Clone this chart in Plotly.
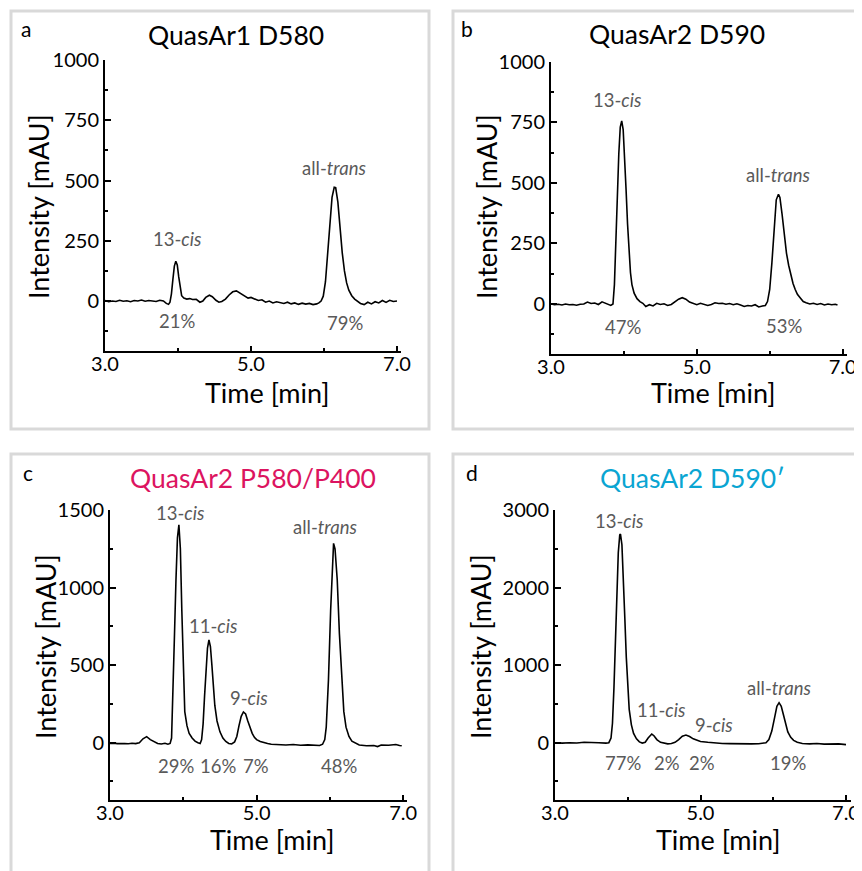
import plotly.graph_objects as go

W, H = 862, 871
FONT = "Lato"
OFF = 8  # browser body margin

# ---------------- data ----------------
# Panel a: QuasAr1 D580
a_time = [3.00, 3.05, 3.10, 3.15, 3.20, 3.25, 3.30, 3.35, 3.40, 3.45, 3.50, 3.55, 3.60, 3.65, 3.70, 3.75,
          3.80, 3.84, 3.87, 3.89, 3.91, 3.93, 3.95, 3.97, 3.99, 4.01, 4.03, 4.05, 4.08, 4.12, 4.16, 4.20,
          4.25, 4.30, 4.34, 4.38, 4.43, 4.47, 4.52, 4.56, 4.60, 4.65, 4.70, 4.75, 4.80, 4.84, 4.88, 4.92,
          4.96, 5.00, 5.05, 5.10, 5.15, 5.20, 5.25, 5.30, 5.35, 5.40, 5.45, 5.50, 5.55, 5.60, 5.65, 5.70,
          5.75, 5.80, 5.85, 5.90, 5.93, 5.96, 5.99, 6.02, 6.05, 6.08, 6.11, 6.14, 6.16, 6.19, 6.22, 6.25,
          6.28, 6.31, 6.34, 6.38, 6.42, 6.46, 6.50, 6.55, 6.60, 6.65, 6.70, 6.75, 6.80, 6.85, 6.90, 6.95, 7.00]
a_int = [2, -3, 0, -2, 3, -1, 1, -3, 2, 0, 4, -1, 2, 0, -2, 3,
         0, -10, -14, -5, 30, 90, 145, 165, 150, 100, 50, 22, 12, 8, 10, 6,
         7, -5, 0, 15, 24, 18, 3, -5, -2, 8, 25, 38, 42, 35, 28, 18,
         12, 15, 8, 2, 5, -5, 0, -8, -3, -6, -10, -5, -12, -8, -14, -9,
         -13, -10, -15, -12, -8, 0, 20, 80, 190, 320, 430, 472, 470, 410, 300, 200,
         125, 75, 45, 22, 8, 0, -10, -15, -5, -12, -3, -8, 2, -6, 3, -2, 0]

# Panel b: QuasAr2 D590
b_time = [3.00, 3.05, 3.10, 3.15, 3.20, 3.25, 3.30, 3.35, 3.40, 3.45, 3.50, 3.55, 3.60, 3.65, 3.70, 3.74,
          3.78, 3.82, 3.85, 3.87, 3.89, 3.91, 3.93, 3.95, 3.97, 3.99, 4.01, 4.03, 4.05, 4.07, 4.09, 4.11,
          4.14, 4.18, 4.22, 4.26, 4.30, 4.35, 4.40, 4.45, 4.50, 4.55, 4.60, 4.65, 4.70, 4.75, 4.80, 4.85,
          4.90, 4.95, 5.00, 5.05, 5.10, 5.15, 5.20, 5.25, 5.30, 5.35, 5.40, 5.45, 5.50, 5.55, 5.60, 5.65,
          5.70, 5.75, 5.80, 5.85, 5.90, 5.94, 5.97, 6.00, 6.03, 6.06, 6.09, 6.12, 6.14, 6.17, 6.20, 6.23,
          6.26, 6.29, 6.32, 6.35, 6.38, 6.42, 6.46, 6.50, 6.55, 6.60, 6.65, 6.70, 6.75, 6.80, 6.85, 6.90, 6.93]
b_int = [0, -3, -1, -4, 0, -3, -2, -5, -1, 0, 8, 2, 4, -2, 9, 3,
         0, -6, 0, 80, 260, 450, 620, 730, 756, 720, 620, 470, 330, 210, 130, 80,
         45, 22, 10, 3, -10, -3, -8, 3, -2, 1, -6, -2, 10, 20, 26, 20,
         8, 2, -3, 3, 0, -6, -2, 5, 2, 3, -1, 2, -3, 1, -4, -10,
         -6, -8, -3, -12, -8, -6, 10, 60, 170, 310, 430, 453, 440, 370, 280, 210,
         160, 120, 85, 60, 40, 25, 10, 5, 0, 3, -2, 2, -4, 0, -3, -1, -4]

# Panel c: QuasAr2 P580/P400
c_time = [3.00, 3.05, 3.10, 3.15, 3.20, 3.25, 3.30, 3.35, 3.40, 3.45, 3.50, 3.55, 3.60, 3.65, 3.70, 3.75,
          3.79, 3.82, 3.84, 3.86, 3.88, 3.90, 3.92, 3.94, 3.96, 3.98, 4.00, 4.02, 4.05, 4.08, 4.12, 4.16,
          4.20, 4.23, 4.25, 4.27, 4.29, 4.31, 4.33, 4.35, 4.37, 4.39, 4.41, 4.43, 4.46, 4.50, 4.54, 4.58,
          4.62, 4.66, 4.70, 4.73, 4.76, 4.79, 4.82, 4.85, 4.88, 4.91, 4.94, 4.97, 5.00, 5.05, 5.10, 5.15,
          5.20, 5.30, 5.40, 5.50, 5.60, 5.70, 5.80, 5.86, 5.90, 5.93, 5.95, 5.98, 6.01, 6.04, 6.05, 6.07,
          6.10, 6.13, 6.16, 6.19, 6.22, 6.26, 6.30, 6.36, 6.40, 6.50, 6.60, 6.65, 6.70, 6.80, 6.90, 6.95, 6.98]
c_int = [-5, -3, -6, -4, -5, -7, -4, -6, 0, 25, 39, 20, 5, -5, -8, -4,
         -10, -5, 30, 300, 700, 1050, 1320, 1404, 1250, 850, 450, 200, 110, 60, 30, 10,
         0, -5, 20, 120, 300, 480, 610, 662, 620, 500, 360, 240, 140, 70, 30, 8,
         -5, -8, 5, 40, 110, 170, 198, 185, 140, 95, 60, 35, 20, 8, 0, -5,
         -10, -12, -15, -12, -16, -14, -15, -18, -10, 20, 100, 400, 850, 1230, 1285, 1250,
         1050, 700, 400, 200, 100, 40, 10, -5, -15, -20, -18, -25, -15, -16, -12, -18, -20]

# Panel d: QuasAr2 D590'
d_time = [3.00, 3.10, 3.20, 3.30, 3.40, 3.50, 3.60, 3.70, 3.74, 3.77, 3.79, 3.81, 3.83, 3.85, 3.87, 3.89,
          3.90, 3.92, 3.94, 3.96, 3.98, 4.00, 4.02, 4.05, 4.08, 4.12, 4.16, 4.20, 4.24, 4.28, 4.31, 4.33,
          4.36, 4.40, 4.45, 4.50, 4.55, 4.60, 4.65, 4.70, 4.75, 4.80, 4.85, 4.90, 4.95, 5.00, 5.10, 5.20,
          5.30, 5.40, 5.50, 5.60, 5.70, 5.80, 5.85, 5.90, 5.94, 5.98, 6.02, 6.05, 6.08, 6.11, 6.14, 6.17,
          6.20, 6.24, 6.28, 6.33, 6.40, 6.50, 6.60, 6.70, 6.80, 6.90, 7.00]
d_int = [0, -5, 0, -3, 5, -2, 0, -5, 0, 60, 250, 700, 1300, 1950, 2450, 2680,
         2690, 2550, 2150, 1600, 1100, 700, 430, 230, 120, 50, 10, -5, 5, 60, 100, 112,
         90, 40, 5, -10, -15, -10, 5, 40, 85, 99, 80, 50, 30, 15, 5, -5,
         -10, -12, -15, -12, -15, -14, -10, 0, 40, 150, 330, 470, 516, 470, 360, 240,
         140, 70, 30, 5, -10, -15, -10, -18, -12, -15, -25]

panel_letters = ["a", "b", "c", "d"]
panel_titles = ["QuasAr1 D580", "QuasAr2 D590", "QuasAr2 P580/P400", "QuasAr2 D590\u2032"]
title_colors = ["#000000", "#000000", "#dc1460", "#0aa5d2"]
y_major_step = [250, 250, 500, 1000]
y_minor_step = [125, 125, 250, 500]
y_top = [1000, 1000, 1500, 3000]
x_tick_vals = [3.0, 5.0, 7.0]
x_tick_text = ["3.0", "5.0", "7.0"]

# peak labels per panel: (label, time, intensity)
a_peaks = [("13-<i>cis</i>", 3.98, 256), ("all-<i>trans</i>", 6.14, 550)]
a_pct = [("21%", 3.99, -82), ("79%", 6.29, -90)]
b_peaks = [("13-<i>cis</i>", 3.90, 843), ("all-<i>trans</i>", 6.11, 533)]
b_pct = [("47%", 3.99, -96), ("53%", 6.19, -91)]
c_peaks = [("13-<i>cis</i>", 3.955, 1483), ("11-<i>cis</i>", 4.40, 752), ("9-<i>cis</i>", 4.89, 290),
           ("all-<i>trans</i>", 5.93, 1389)]
c_pct = [("29%", 3.90, -150), ("16%", 4.48, -150), ("7%", 4.99, -150), ("48%", 6.12, -150)]
d_peaks = [("13-<i>cis</i>", 3.88, 2858), ("11-<i>cis</i>", 4.46, 421), ("9-<i>cis</i>", 5.19, 228),
           ("all-<i>trans</i>", 6.08, 701)]
d_pct = [("77%", 3.94, -258), ("2%", 4.535, -258), ("2%", 5.02, -258), ("19%", 6.20, -258)]

# ---------------- layout geometry (screen pixels) ----------------
geo = [
    dict(x0=105, x1=401, ppm=73.0, yt=60, y0=301, yb=351),
    dict(x0=551, x1=847, ppm=72.9, yt=61.7, y0=304, yb=354),
    dict(x0=110, x1=406.7, ppm=73.3, yt=510, y0=742.7, yb=800),
    dict(x0=555, x1=851, ppm=72.75, yt=510, y0=742.7, yb=800),
]
boxes = [(11, 11, 429, 429), (453, 11, 860, 429), (11, 454, 429, 880), (453, 454, 860, 880)]
letter_pos = [(26, 29), (467, 28), (28, 473), (472, 472)]
title_pos = [(236, 35), (677, 34), (253, 478), (692, 478)]
ytitle_pos = [(38, 207), (486, 207), (45, 647), (480, 647)]
xtitle_pos = [(267, 392), (713, 392), (272, 839), (718, 839)]


def px(x):
    return (x - OFF) / W


def py(y):
    return 1 - (y - OFF) / H


traces = [(a_time, a_int), (b_time, b_int), (c_time, c_int), (d_time, d_int)]
peaks = [a_peaks, b_peaks, c_peaks, d_peaks]
pcts = [a_pct, b_pct, c_pct, d_pct]

fig = go.Figure()
annotations = []
shapes = []
lay = {}


def note(text, x, y, size, color, xref="paper", yref="paper", angle=0):
    return dict(text=text, x=x, y=y, xref=xref, yref=yref, showarrow=False, textangle=angle,
                xanchor="center", yanchor="middle",
                font=dict(family=FONT, size=size, color=color))


for i in range(4):
    g = geo[i]
    n = "" if i == 0 else str(i + 1)
    xa, ya = "x" + n, "y" + n
    t, v = traces[i]
    fig.add_trace(go.Scatter(x=t, y=v, mode="lines", line=dict(color="black", width=1.6),
                             xaxis=xa, yaxis=ya, showlegend=False, hoverinfo="skip"))
    ppu = (g["y0"] - g["yt"]) / y_top[i]
    ybot = -(g["yb"] - g["y0"]) / ppu
    xend = 3 + (g["x1"] - g["x0"]) / g["ppm"]
    lay["xaxis" + n] = dict(
        domain=[px(g["x0"]), px(g["x1"])], range=[3, xend], anchor=ya, automargin=False,
        showline=True, linecolor="black", linewidth=2, showgrid=False, zeroline=False,
        ticks="inside", ticklen=5, tickwidth=1.5, tickcolor="black",
        tickvals=x_tick_vals, ticktext=x_tick_text, ticklabelstandoff=-6,
        minor=dict(ticks="inside", ticklen=3, tickwidth=1.5, tickcolor="black", dtick=1, tick0=3),
        tickfont=dict(family=FONT, size=20, color="black"), fixedrange=True,
    )
    lay["yaxis" + n] = dict(
        domain=[py(g["yb"]), py(g["yt"])], range=[ybot, y_top[i]], anchor=xa, automargin=False,
        showline=True, linecolor="black", linewidth=2, showgrid=False, zeroline=False,
        ticks="inside", ticklen=6, tickwidth=1.5, tickcolor="black",
        tickmode="linear", tick0=0, dtick=y_major_step[i],
        minor=dict(ticks="inside", ticklen=3, tickwidth=1.5, tickcolor="black",
                   dtick=y_minor_step[i], tick0=0),
        tickfont=dict(family=FONT, size=20, color="black"), fixedrange=True,
    )
    bx = boxes[i]
    shapes.append(dict(type="rect", xref="paper", yref="paper",
                       x0=px(bx[0]), x1=px(bx[2]), y0=py(bx[3]), y1=py(bx[1]),
                       line=dict(color="#d9d9d9", width=3), layer="below"))
    annotations.append(note(panel_letters[i], px(letter_pos[i][0]), py(letter_pos[i][1]), 21, "black"))
    annotations.append(note(panel_titles[i], px(title_pos[i][0]), py(title_pos[i][1]), 26.5,
                            title_colors[i]))
    annotations.append(note("Intensity [mAU]", px(ytitle_pos[i][0]), py(ytitle_pos[i][1]), 27,
                            "black", angle=-90))
    annotations.append(note("Time [min]", px(xtitle_pos[i][0]), py(xtitle_pos[i][1]), 27, "black"))
    for (lab, tx, ty) in peaks[i] + pcts[i]:
        annotations.append(note(lab, tx, ty, 18.5, "#5a5a5a", xref=xa, yref=ya))

fig.update_layout(width=W, height=H, margin=dict(l=0, r=0, t=0, b=0, autoexpand=False),
                  template="none", paper_bgcolor="white", plot_bgcolor="white",
                  annotations=annotations, shapes=shapes, **lay)
fig.write_html("out.html")
